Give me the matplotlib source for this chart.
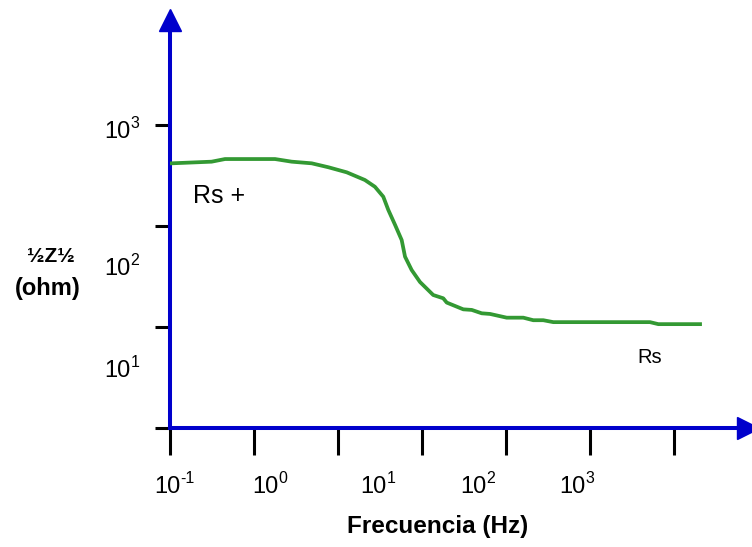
import matplotlib
matplotlib.use("Agg")
import matplotlib.pyplot as plt
import numpy as np
from matplotlib import font_manager

# impedance magnitude vs frequency
freq = [0.105, 0.313, 0.452, 1.78, 2.81, 4.86, 7.67, 12.7, 20.9, 27.5, 34.6,
        39.7, 47.8, 57.3, 62.8, 75.3, 94.6, 136, 179, 197, 310, 391, 514, 646,
        1019, 1607, 2113, 2780, 3656, 51760, 65010, 204200]
zmag = [420, 436, 463, 463, 436, 420, 384, 342, 287, 246, 196,
        145, 103, 72.9, 49.9, 36.8, 28.0, 20.8, 19.3, 17.5, 15.0, 14.8, 13.7, 13.5,
        12.4, 12.4, 11.7, 11.7, 11.2, 11.2, 10.7, 10.7]

x_exps = [-1, 0, 1, 2, 3]
y_exps = [3, 2, 1]

W, H = 752, 547
BLUE = '#0000cc'
GREEN = '#339933'

names = {f.name for f in font_manager.fontManager.ttflist}
if 'Liberation Sans Narrow' in names:
    narrow, big, sup, rs_big, rs_small = 'Liberation Sans Narrow', 19.5, 13, 21, 16
else:
    narrow, big, sup, rs_big, rs_small = 'Liberation Sans', 17, 11.5, 18, 14.5


def px(x, y):
    return x / W, 1 - y / H


fig = plt.figure(figsize=(W / 100, H / 100), dpi=100)
ax = fig.add_axes([170 / W, (H - 428) / H, (748 - 170) / W, (428 - 20) / H])
ax.set_xscale('log')
ax.set_yscale('log')
ax.set_xlim(10 ** -1, 10 ** (-1 + 578 / 84))
ax.set_ylim(1, 10 ** (408 / 100.9))

ax.plot(freq, zmag, color=GREEN, lw=2.7, solid_joinstyle='round', zorder=5)

for s in ['top', 'right']:
    ax.spines[s].set_visible(False)
for s in ['left', 'bottom']:
    ax.spines[s].set_color(BLUE)
    ax.spines[s].set_linewidth(2.9)

ax.set_xticks(10.0 ** np.arange(-1, 6))
ax.set_yticks(10.0 ** np.arange(0, 4))
ax.xaxis.set_minor_locator(matplotlib.ticker.NullLocator())
ax.yaxis.set_minor_locator(matplotlib.ticker.NullLocator())
ax.tick_params(axis='x', length=27 * 0.72, width=2.2, color='black',
               labelbottom=False)
ax.tick_params(axis='y', length=15 * 0.72, width=2.2, color='black',
               labelleft=False)

# arrow heads
ax.plot([1], [0], marker='>', ms=22 * 0.72, color=BLUE, transform=ax.transAxes,
        clip_on=False)
ax.plot([0], [1], marker='^', ms=22 * 0.72, color=BLUE, transform=ax.transAxes,
        clip_on=False)

renderer = fig.canvas.get_renderer()


def power_label(x, y, exp):
    t = fig.text(*px(x, y), '10', fontsize=big, family=narrow,
                 ha='left', va='baseline')
    bb = t.get_window_extent(renderer)
    fig.text(bb.x1 / W, 1 - (y - 10) / H, str(exp), fontsize=sup,
             family=narrow, ha='left', va='baseline')


for e, x0 in zip(x_exps, [154, 252, 360, 460, 559]):
    power_label(x0, 493, e)
for e, y0 in zip(y_exps, [138, 275, 377]):
    power_label(104, y0, e)

fig.text(*px(51, 257), '½Z½', fontsize=15, family='Liberation Sans',
         weight='bold', ha='center', va='center')
fig.text(*px(48, 289), '(ohm)', fontsize=17, family='Liberation Sans',
         weight='bold', ha='center', va='center')
fig.text(*px(438, 527), 'Frecuencia (Hz)', fontsize=17.5, family='Liberation Sans',
         weight='bold', ha='center', va='center')

fig.text(*px(193, 203), 'Rs +', fontsize=rs_big, family=narrow,
         ha='left', va='baseline')
fig.text(*px(637, 363), 'Rs', fontsize=rs_small, family=narrow,
         ha='left', va='baseline')

fig.savefig('out.png', dpi=100)
